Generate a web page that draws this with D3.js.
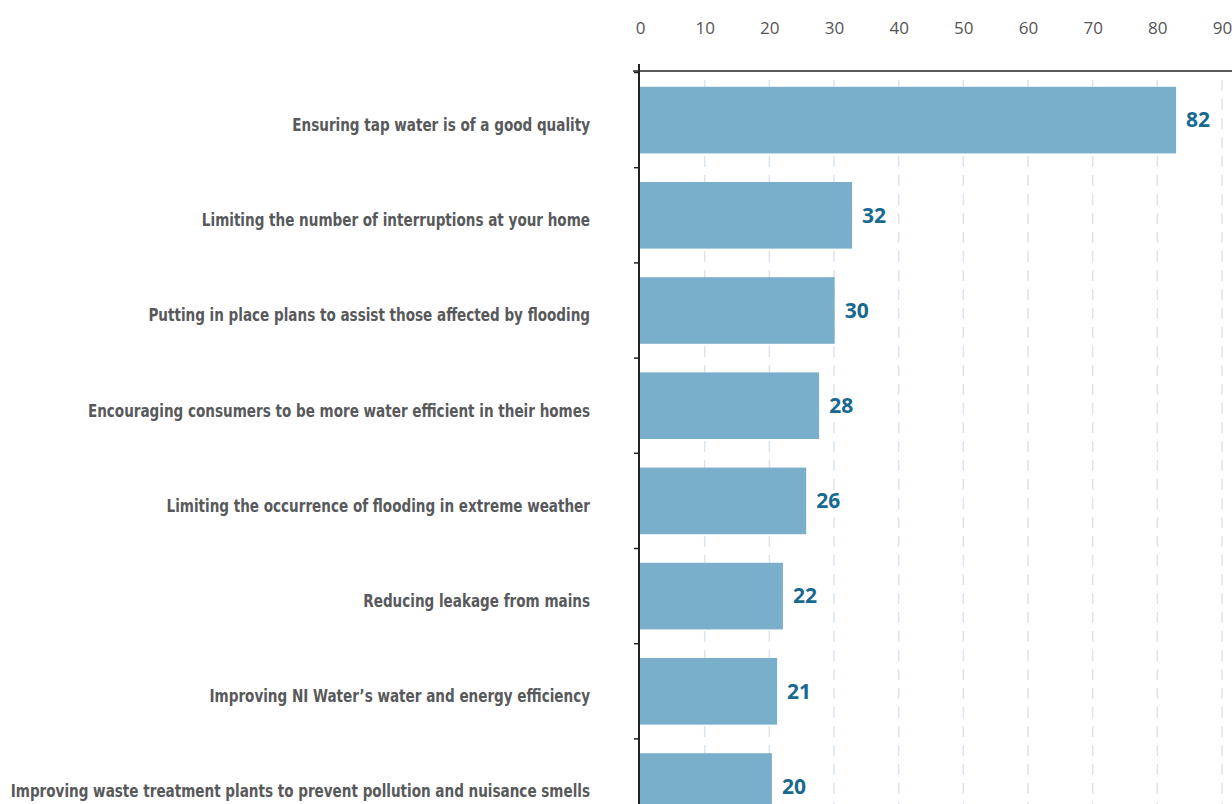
<!DOCTYPE html>
<html>
<head>
<meta charset="utf-8">
<script src="https://cdn.jsdelivr.net/npm/d3@7"></script>
<style>
  body { margin: 0; background: #fff; }
  svg { display: block; }
</style>
</head>
<body>
<svg id="chart" width="1232" height="804"></svg>
<script>
let categories = [
  "Ensuring tap water is of a good quality",
  "Limiting the number of interruptions at your home",
  "Putting in place plans to assist those affected by flooding",
  "Encouraging consumers to be more water efficient in their homes",
  "Limiting the occurrence of flooding in extreme weather",
  "Reducing leakage from mains",
  "Improving NI Water\u2019s water and energy efficiency",
  "Improving waste treatment plants to prevent pollution and nuisance smells"
];
// bar lengths, labels as printed
let values = [82.9, 32.8, 30.1, 27.7, 25.7, 22.1, 21.2, 20.4];
let value_labels = ["82", "32", "30", "28", "26", "22", "21", "20"];
let ticks = [0, 10, 20, 30, 40, 50, 60, 70, 80, 90];

let svg = d3.select('#chart');
let width = 1232, height = 804;
let x0 = 640, x90 = 1222;
let top_y = 72.5, step = 95.2;

let x = d3.scaleLinear().domain([0, 90]).range([x0, x90]);
let y = d3.scaleBand().domain(categories)
  .range([top_y, top_y + step * categories.length])
  .paddingInner(0.3).paddingOuter(0.15);

let label_font = '"DejaVu Sans Condensed", "Liberation Sans Narrow", sans-serif';
let num_font = '"Open Sans", "Noto Sans", sans-serif';

// grid lines
svg.append('g').attr('class', 'grid')
  .selectAll('line').data(ticks.slice(1)).enter().append('line')
  .attr('x1', d => x(d)).attr('x2', d => x(d))
  .attr('y1', 80).attr('y2', height)
  .attr('stroke', '#dce4ee').attr('stroke-width', 1.5)
  .attr('stroke-dasharray', '11,8');

// bars
svg.append('g').selectAll('rect').data(values).enter().append('rect')
  .attr('x', x(0))
  .attr('y', (d, i) => y(categories[i]))
  .attr('width', d => x(d) - x(0))
  .attr('height', y.bandwidth())
  .attr('fill', '#7aafcc');

// value labels
svg.append('g').selectAll('text').data(values).enter().append('text')
  .attr('x', d => x(d) + 10)
  .attr('y', (d, i) => y(categories[i]) + y.bandwidth() / 2)
  .attr('dy', '0.35em')
  .attr('font-family', num_font)
  .attr('font-weight', 700)
  .attr('font-size', 21)
  .attr('fill', '#17698f')
  .text((d, i) => value_labels[i]);

// x axis on top
let x_axis = svg.append('g').attr('transform', 'translate(0,71)')
  .call(d3.axisTop(x).tickValues(ticks).tickSize(0).tickPadding(37));
x_axis.select('.domain').remove();
x_axis.append('line')
  .attr('x1', 633).attr('x2', width)
  .attr('y1', 0).attr('y2', 0)
  .attr('stroke', '#222').attr('stroke-width', 1.5);
x_axis.selectAll('text')
  .attr('font-family', num_font)
  .attr('font-size', 17)
  .attr('fill', '#555');

// y axis with ticks at band boundaries
let boundaries = categories.map((c, i) => top_y + i * step);
let y_axis = svg.append('g');
y_axis.append('line')
  .attr('x1', x0 - 1).attr('x2', x0 - 1)
  .attr('y1', 64).attr('y2', height)
  .attr('stroke', '#222').attr('stroke-width', 2);
y_axis.selectAll('.ytick').data(boundaries).enter().append('line')
  .attr('class', 'ytick')
  .attr('x1', x0 - 6).attr('x2', x0 - 1)
  .attr('y1', d => d).attr('y2', d => d)
  .attr('stroke', '#222').attr('stroke-width', 1.5);

// category labels, squeezed horizontally to mimic a condensed face
let labels = svg.append('g').selectAll('text').data(categories).enter().append('text')
  .attr('x', 0).attr('y', 0)
  .attr('dy', '0.35em')
  .attr('text-anchor', 'end')
  .attr('font-family', label_font)
  .attr('font-weight', 700)
  .attr('font-size', 17)
  .attr('fill', '#58595b')
  .text(d => d);

let longest = d3.max(labels.nodes(), n => n.getComputedTextLength());
let squeeze = 580 / longest;
labels.attr('transform', d => 'translate(590,' + (y(d) + y.bandwidth() / 2 + 5) + ') scale(' + squeeze + ',1)');
</script>
</body>
</html>
